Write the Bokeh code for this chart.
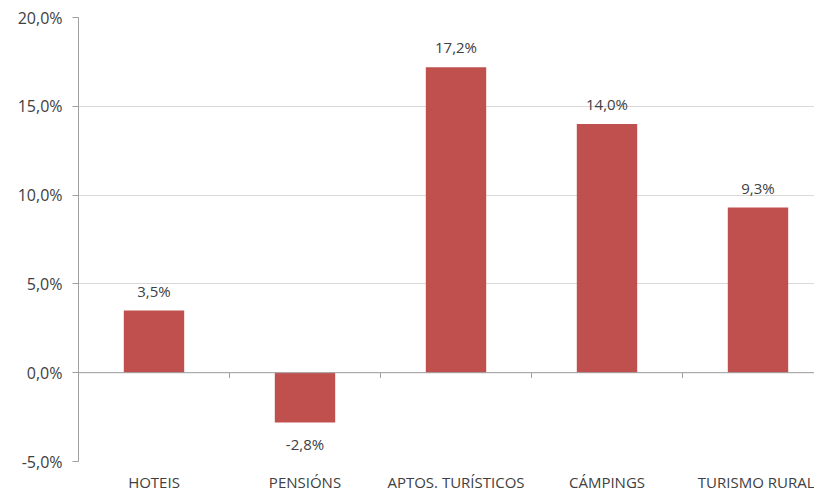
from bokeh.plotting import figure
from bokeh.models import Range1d, FixedTicker, Span, ColumnDataSource
from bokeh.core.properties import value
from bokeh.embed import file_html
from bokeh.resources import INLINE

categories = ["HOTEIS", "PENSIÓNS", "APTOS. TURÍSTICOS", "CÁMPINGS", "TURISMO RURAL"]
values = [3.5, -2.8, 17.2, 14.0, 9.3]
y_ticks = [-5, 0, 5, 10, 15, 20]

FONT = "Open Sans"
TXT = "#404040"

xs = [i + 0.5 for i in range(len(categories))]
src = ColumnDataSource(dict(
    x=xs, top=values,
    label=[f"{v:.1f}%".replace(".", ",") for v in values],
    yoff=[-20 if v >= 0 else 22 for v in values],
))

p = figure(output_backend="svg", toolbar_location=None,
           frame_width=736, frame_height=444,
           min_border_left=78, min_border_right=0, min_border_top=17, min_border_bottom=0,
           x_range=Range1d(0, 736 / 151), y_range=Range1d(-5, 20))
p.outline_line_color = None
p.background_fill_color = "white"

p.vbar(x="x", top="top", bottom=0, width=0.4, source=src,
       fill_color="#C0504D", line_color=None)

p.text(x="x", y="top", text="label", source=src, y_offset="yoff",
       text_align="center", text_baseline="middle",
       text_font=value(FONT), text_font_size="15px", text_color=TXT)

# zero line and category separator ticks
p.add_layout(Span(location=0, dimension="width", line_color="#a0a0a0", line_width=1))
bounds = list(range(1, len(categories)))
p.segment(x0=bounds, y0=[0] * len(bounds), x1=bounds, y1=[-0.3] * len(bounds),
          line_color="#a0a0a0", line_width=1)

# y axis
p.yaxis.ticker = FixedTicker(ticks=y_ticks)
p.yaxis.major_label_overrides = {t: f"{t:.1f}%".replace(".", ",") for t in y_ticks}
p.yaxis.axis_line_color = "#a0a0a0"
p.yaxis.major_tick_line_color = "#a0a0a0"
p.yaxis.major_tick_out = 6
p.yaxis.major_tick_in = 0
p.yaxis.minor_tick_line_color = None
p.yaxis.major_label_text_font = FONT
p.yaxis.major_label_text_font_size = "16px"
p.yaxis.major_label_text_color = TXT
p.yaxis.major_label_standoff = 10

p.ygrid.ticker = FixedTicker(ticks=y_ticks)
p.ygrid.grid_line_color = "#d9d9d9"
p.xgrid.grid_line_color = None

# x axis (labels only)
p.xaxis.ticker = FixedTicker(ticks=xs)
p.xaxis.major_label_overrides = {x: c for x, c in zip(xs, categories)}
p.xaxis.axis_line_color = None
p.xaxis.major_tick_line_color = None
p.xaxis.minor_tick_line_color = None
p.xaxis.major_label_text_font = FONT
p.xaxis.major_label_text_font_size = "15px"
p.xaxis.major_label_text_color = TXT
p.xaxis.major_label_standoff = 4

open("out.html", "w").write(file_html(p, INLINE))
